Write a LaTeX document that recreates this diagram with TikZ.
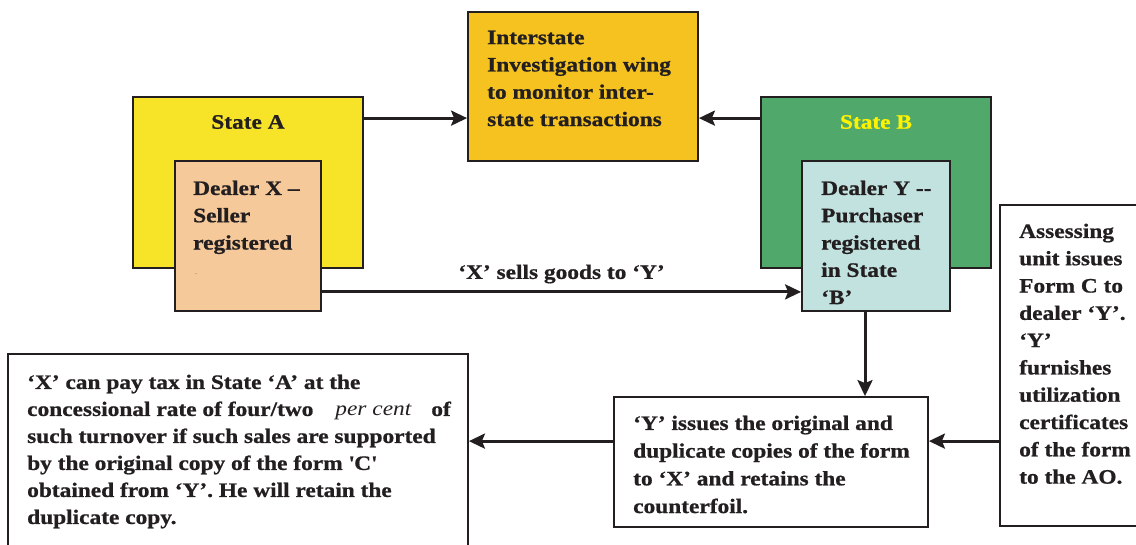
\documentclass[tikz,border=0pt]{standalone}
\usepackage{fontspec}
\setmainfont{Liberation Serif}[FakeStretch=1.14, BoldFeatures={FakeBold=0.8}]
\usetikzlibrary{arrows.meta}
\definecolor{ink}{RGB}{35,31,32}
\definecolor{yelA}{RGB}{247,228,40}
\definecolor{peach}{RGB}{246,201,155}
\definecolor{orangeY}{RGB}{245,194,31}
\definecolor{greenB}{RGB}{80,169,107}
\definecolor{cyanY}{RGB}{193,226,223}
\definecolor{titleB}{RGB}{255,242,0}
\tikzset{
  box/.style={draw=ink, line width=1.8pt, inner sep=0pt, rectangle},
  txt/.style={anchor=north west, inner sep=0pt, align=left, text=ink,
    font=\fontsize{20.5}{27.3}\selectfont\bfseries},
  arr/.style={draw=ink, line width=3pt, -{Stealth[length=16pt,width=15pt,inset=3pt]}},
}
\begin{document}
\begin{tikzpicture}[x=1pt,y=-1pt]
\useasboundingbox (0,0) rectangle (1136,544);
% boxes
\node[box, fill=yelA, minimum width=230pt, minimum height=171pt] (stateA) at (248,182.5) {};
\node[box, fill=peach, minimum width=146pt, minimum height=150pt] (dealerX) at (248,236) {};
\node[box, fill=orangeY, minimum width=230pt, minimum height=149pt] (inter) at (583,86.5) {};
\node[box, fill=greenB, minimum width=230pt, minimum height=171pt] (stateB) at (876,182.5) {};
\node[box, fill=cyanY, minimum width=148pt, minimum height=150pt] (dealerY) at (876,236) {};
\node[box, fill=white, minimum width=146pt, minimum height=321pt] (assess) at (1073,365.5) {};
\node[box, fill=white, minimum width=460pt, minimum height=200pt] (leftbox) at (238,454) {};
\node[box, fill=white, minimum width=314pt, minimum height=130pt] (mid) at (771,462) {};
% titles
\node[text=ink, inner sep=0pt, font=\fontsize{20.5}{24}\selectfont\bfseries] (tA) at (248,122) {State A};
\node[text=titleB, inner sep=0pt, font=\fontsize{20.5}{24}\selectfont\bfseries] (tB) at (876,122) {State B};
% texts
\node[txt] (tInter) at (487,30.5) {Interstate\\Investigation wing\\to monitor inter-\\state transactions};
\node[txt] (tX) at (193,180.5) {Dealer X –\\Seller\\registered};
\node[inner sep=0pt, text=ink, font=\fontsize{4}{4}\selectfont] (dots) at (196,274) {..};
\node[txt] (tY) at (821,180.5) {Dealer Y -{}-\\Purchaser\\registered\\in State\\‘B’};
\node[txt] (tAssess) at (1019,223.5) {Assessing\\unit issues\\Form C to\\dealer ‘Y’.\\‘Y’\\furnishes\\utilization\\certificates\\of the form\\to the AO.};
\node[txt, font=\fontsize{20.5}{27}\selectfont\bfseries] (tLeft) at (27,374.5) {‘X’ can pay tax in State ‘A’ at the\\concessional rate of four/two\hspace{22pt}{\mdseries\itshape per cent}\hspace{20pt}of\\such turnover if such sales are supported\\by the original copy of the form \textquotesingle C\textquotesingle\\obtained from ‘Y’. He will retain the\\duplicate copy.};
\node[txt, font=\fontsize{20.5}{27.7}\selectfont\bfseries] (tMid) at (633,415.5) {‘Y’ issues the original and\\duplicate copies of the form\\to ‘X’ and retains the\\counterfoil.};
% connectors
\draw[arr] ([yshift=-22pt]stateA.north east) -- ([yshift=-22pt]stateA.north east -| inter.west);
\draw[arr] ([yshift=-22pt]stateB.north west) -- ([yshift=-22pt]stateB.north west -| inter.east);
\draw[arr] ([yshift=20pt]dealerX.south east) -- ([yshift=20pt]dealerX.south east -| dealerY.west)
  node[midway, above=7pt, inner sep=0pt, text=ink, font=\fontsize{20.5}{24}\selectfont\bfseries] (lbl) {‘X’ sells goods to ‘Y’};
\draw[arr] ([xshift=-11pt]dealerY.south) -- ([xshift=-11pt]dealerY.south |- mid.north);
\draw[arr] ([yshift=-45pt]mid.north west) -- ([yshift=-45pt]mid.north west -| leftbox.east);
\draw[arr] ([yshift=-45pt]mid.north east -| assess.west) -- ([yshift=-45pt]mid.north east);
\end{tikzpicture}
\end{document}
